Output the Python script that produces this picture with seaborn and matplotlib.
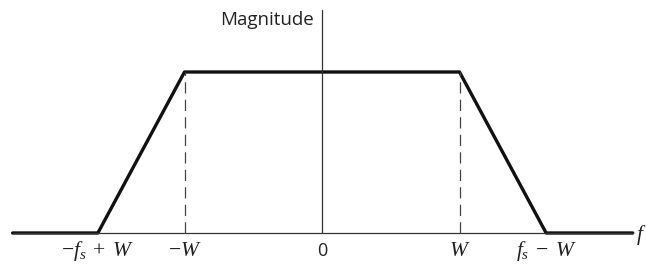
import numpy as np
import pandas as pd
import matplotlib
matplotlib.use("Agg")
import matplotlib.pyplot as plt
import seaborn as sns

# spectrum corners, frequency in units of W
freq = [-2.25, -1.63, -1.0, 1.0, 1.63, 2.26]
mag = [0.0, 0.0, 1.0, 1.0, 0.0, 0.0]
tick_pos = [-1.63, -1.0, 0.0, 1.0, 1.63]
tick_lab = [r'$-f_s\;+\;W$', r'$-W$', '0', r'$W$', r'$f_s\;-\;W$']

sns.set_theme(style="white")
plt.rcParams['mathtext.fontset'] = 'custom'
plt.rcParams['mathtext.rm'] = 'Liberation Serif'
plt.rcParams['mathtext.it'] = 'Liberation Serif:italic'
plt.rcParams['font.family'] = ['Open Sans', 'DejaVu Sans']

fig = plt.figure(figsize=(6.46, 2.67), dpi=100)
ax = fig.add_axes([0, 0, 1, 1])
df = pd.DataFrame({'f': freq, 'm': mag})
sns.lineplot(data=df, x='f', y='m', sort=False, color='#111111', lw=2.4, ax=ax)

# axes lines
ax.plot([-2.25, 2.26], [0, 0], color='#333333', lw=0.9)
ax.plot([0, 0], [0, 1.385], color='#333333', lw=0.9)
for x in [-1.0, 1.0]:
    ax.plot([x, x], [0, 1], color='#444444', lw=0.9, ls=(0, (9, 5)))

for x, lab in zip(tick_pos, tick_lab):
    size = 13 if lab == '0' else 15.5
    ax.text(x, -0.11, lab, ha='center', va='center', fontsize=size, color='#222222')
ax.text(2.285, -0.01, r'$f$', ha='left', va='center', fontsize=15.5, color='#222222')
ax.text(-0.06, 1.32, 'Magnitude', ha='right', va='center', fontsize=13.5, color='#222222')

ax.set_xlim(-322 / 137.5, 324 / 137.5)
ax.set_ylim(-34 / 161, 233 / 161)
ax.axis('off')
fig.savefig('out.png', dpi=100)
